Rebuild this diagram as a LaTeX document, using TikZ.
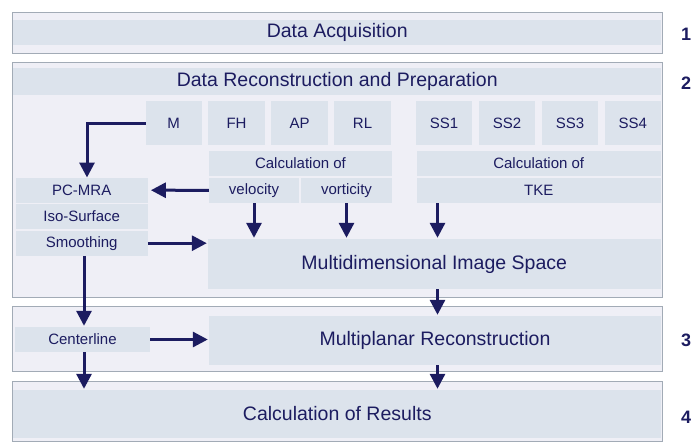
\documentclass[tikz,border=0pt]{standalone}
\usepackage{fontspec}
\setmainfont{Liberation Sans}
\usetikzlibrary{arrows.meta}
\definecolor{panelfill}{HTML}{EFEFF6}
\definecolor{panelline}{HTML}{A2ABB6}
\definecolor{bandfill}{HTML}{DCE3EC}
\definecolor{navy}{HTML}{1C1C60}
\tikzset{
  panel/.style={draw=panelline, line width=1pt, fill=panelfill, inner sep=0pt},
  band/.style={fill=bandfill, inner sep=0pt, text=navy, font=\fontsize{19.5}{22}\selectfont},
  cell/.style={fill=bandfill, inner sep=0pt, text=navy, font=\fontsize{15}{18}\selectfont},
  num/.style={text=navy, font=\fontsize{18}{20}\selectfont\bfseries},
  arr/.style={draw=navy, line width=3pt, -{Triangle[length=15pt,width=15pt]}},
}
\begin{document}
\begin{tikzpicture}[x=1pt,y=-1pt]
\useasboundingbox (0,0) rectangle (692,442);

% stage panels
\node[panel, minimum width=649.5pt, minimum height=41pt] (p1) at (337.25,32.5) {};
\node[panel, minimum width=649.5pt, minimum height=235pt] (p2) at (337.25,179.5) {};
\node[panel, minimum width=649.5pt, minimum height=65pt] (p3) at (337.25,338.5) {};
\node[panel, minimum width=649.5pt, minimum height=60pt] (p4) at (337.25,411.5) {};

% stage titles
\node[band, minimum width=648pt, minimum height=25pt] (acq) at (337.25,32.5) {Data Acquisition};
\node[band, minimum width=648pt, minimum height=27pt] (recon) at (337.25,81.5) {Data Reconstruction and Preparation};
\node[band, minimum width=648pt, minimum height=48pt] (results) at (337.25,414) {Calculation of Results};

% acquired series
\node[cell, minimum width=56pt, minimum height=44pt] (M) at (173.7,123) {M};
\node[cell, minimum width=57pt, minimum height=44pt] (FH) at (236.5,123) {FH};
\node[cell, minimum width=57pt, minimum height=44pt] (AP) at (299.5,123) {\raisebox{-2pt}{AP}};
\node[cell, minimum width=57pt, minimum height=44pt] (RL) at (362.5,123) {RL};
\node[cell, minimum width=56pt, minimum height=44pt] (SS1) at (444,123) {SS1};
\node[cell, minimum width=56pt, minimum height=44pt] (SS2) at (507,123) {SS2};
\node[cell, minimum width=56pt, minimum height=44pt] (SS3) at (570,123) {SS3};
\node[cell, minimum width=55.5pt, minimum height=44pt] (SS4) at (632.75,123) {SS4};

% derived quantities
\node[cell, minimum width=183pt, minimum height=25pt] (calcA) at (300.5,163.5) {Calculation of};
\node[cell, minimum width=90pt, minimum height=25pt] (vel) at (254,190.3) {velocity};
\node[cell, minimum width=91pt, minimum height=25pt] (vort) at (346.5,190.3) {vorticity};
\node[cell, minimum width=244pt, minimum height=25pt] (calcB) at (538.7,163.5) {Calculation of};
\node[cell, minimum width=244pt, minimum height=25pt] (tke) at (538.7,190.3) {TKE};

% segmentation chain
\node[cell, minimum width=132pt, minimum height=25pt] (pcmra) at (81.7,190.2) {PC-MRA};
\node[cell, minimum width=132pt, minimum height=25pt] (iso) at (81.7,216.6) {Iso-Surface};
\node[cell, minimum width=132pt, minimum height=25pt] (smooth) at (81.7,243.2) {Smoothing};
\node[cell, minimum width=135pt, minimum height=25pt] (center) at (82.5,339.5) {Centerline};

% image spaces
\node[band, minimum width=452.5pt, minimum height=50pt] (multidim) at (434.25,264) {Multidimensional Image Space};
\node[band, minimum width=452pt, minimum height=49pt] (mpr) at (435,340.5) {Multiplanar Reconstruction};

% stage numbers
\node[num] (n1) at (686,34) {1};
\node[num] (n2) at (686,83) {2};
\node[num] (n3) at (686,340) {3};
\node[num] (n4) at (686,417) {4};

% connectors
\coordinate (mbend) at (87,121.7);
\coordinate (colx) at (437.5,0);
\coordinate (segx) at (84,0);
\draw[arr] (M.west) -| (mbend |- pcmra.north);
\draw[arr, shorten >=3pt] (vel.west) -- (pcmra.east);
\draw[arr, shorten >=1pt] (vel.south) -- (vel.south |- multidim.north);
\draw[arr, shorten >=1pt] (vort.south) -- (vort.south |- multidim.north);
\draw[arr, shorten >=1pt] (colx |- tke.south) -- (colx |- multidim.north);
\draw[arr, shorten >=1pt] (smooth.east) -- (smooth.east -| multidim.west);
\draw[arr, shorten >=1pt] (segx |- smooth.south) -- (segx |- center.north);
\draw[arr, shorten >=1pt] (colx |- multidim.south) -- (colx |- mpr.north);
\draw[arr, shorten >=1pt] (center.east) -- (center.east -| mpr.west);
\draw[arr, shorten >=1pt] (segx |- center.south) -- (segx |- results.north);
\draw[arr, shorten >=1pt] (colx |- mpr.south) -- (colx |- results.north);
\end{tikzpicture}
\end{document}
